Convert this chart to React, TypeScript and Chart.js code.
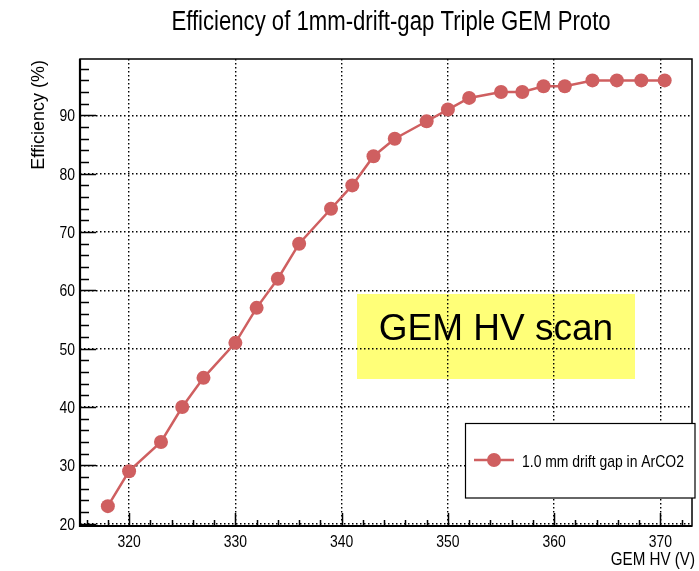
import React, { useEffect, useRef } from 'react';
import { Chart, registerables } from 'chart.js';

Chart.register(...registerables);

// ---- data ----
const hvValues = [318, 320, 323, 325, 327, 330, 332, 334, 336, 339, 341, 343, 345, 348, 350, 352, 355, 357, 359, 361, 363.6, 365.9, 368.2, 370.4];
const efficiencyValues = [23, 29, 34, 40, 45, 51, 57, 62, 68, 74, 78, 83, 86, 89, 91, 93, 94, 94, 95, 95, 96, 96, 96, 96];
const xTickValues = [320, 330, 340, 350, 360, 370];
const yTickValues = [20, 30, 40, 50, 60, 70, 80, 90];

const chartTitle = 'Efficiency of 1mm-drift-gap Triple GEM Proto';
const xAxisTitle = 'GEM HV (V)';
const yAxisTitle = 'Efficiency (%)';
const legendLabel = '1.0 mm drift gap in ArCO2';
const annotationText = 'GEM HV scan';

const X_MIN = 315.38;
const X_MAX = 372.97;
const Y_MIN = 19.6;
const Y_MAX = 99.67;

const SERIES_COLOR = '#cf5f60';
const SANS = "'Liberation Sans', Arial, Helvetica, sans-serif";
const NARROW_SCALE = 0.82;

function narrowText(ctx: any, text: string, x: number, y: number, size: number, align: string) {
  ctx.save();
  ctx.translate(x, y);
  ctx.scale(NARROW_SCALE, 1);
  ctx.font = `${size}px ${SANS}`;
  ctx.textAlign = align;
  ctx.textBaseline = 'alphabetic';
  ctx.fillStyle = '#000000';
  ctx.fillText(text, 0, 0);
  ctx.restore();
}

const rootStylePlugin = {
  id: 'rootStyle',
  beforeDraw(chart: any) {
    const ctx = chart.ctx;
    ctx.save();
    ctx.fillStyle = '#ffffff';
    ctx.fillRect(0, 0, chart.width, chart.height);
    // yellow annotation box (drawn under the grid)
    ctx.fillStyle = '#ffff78';
    ctx.fillRect(357, 294, 278, 85);
    ctx.fillStyle = '#000000';
    ctx.font = `37px ${SANS}`;
    ctx.textAlign = 'center';
    ctx.textBaseline = 'alphabetic';
    ctx.fillText(annotationText, 496, 340);
    ctx.restore();
  },
  beforeDatasetsDraw(chart: any) {
    const ctx = chart.ctx;
    const { left, right, top, bottom } = chart.chartArea;
    const xs = chart.scales.x;
    const ys = chart.scales.y;
    ctx.save();
    ctx.strokeStyle = '#000000';
    ctx.lineWidth = 1.5;
    // y ticks (inside, from left axis)
    for (let v = 20; v <= 98; v += 2) {
      const py = Math.round(ys.getPixelForValue(v)) + 0.5;
      if (py < top || py > bottom) continue;
      const len = v % 10 === 0 ? 16 : 9;
      ctx.beginPath();
      ctx.moveTo(left, py);
      ctx.lineTo(left + len, py);
      ctx.stroke();
    }
    // x ticks (inside, from bottom axis)
    for (let v = 316; v <= 372; v += 2) {
      const px = Math.round(xs.getPixelForValue(v)) + 0.5;
      if (px < left || px > right) continue;
      const len = v % 10 === 0 ? 13 : 6;
      ctx.beginPath();
      ctx.moveTo(px, bottom);
      ctx.lineTo(px, bottom - len);
      ctx.stroke();
    }
    // frame
    ctx.lineWidth = 1.5;
    ctx.strokeRect(left, top, right - left, bottom - top);
    ctx.lineWidth = 2.2;
    ctx.beginPath();
    ctx.moveTo(left, top);
    ctx.lineTo(left, bottom);
    ctx.lineTo(right, bottom);
    ctx.stroke();
    ctx.restore();

    // tick labels, positioned by the chart's scales
    xs.ticks.forEach((t: any) => {
      narrowText(ctx, String(t.value), xs.getPixelForValue(t.value), 547, 17, 'center');
    });
    ys.ticks.forEach((t: any) => {
      narrowText(ctx, String(t.value), 75, ys.getPixelForValue(t.value) + 6, 17, 'right');
    });

    // title
    narrowText(ctx, chartTitle, 391, 29.5, 27, 'center');
    // x axis title
    narrowText(ctx, xAxisTitle, 695, 565, 18.5, 'right');

    // y axis title
    ctx.save();
    ctx.translate(44, 60);
    ctx.rotate(-Math.PI / 2);
    ctx.font = `18px ${SANS}`;
    ctx.textAlign = 'right';
    ctx.textBaseline = 'alphabetic';
    ctx.fillStyle = '#000000';
    ctx.fillText(yAxisTitle, 0, 0);
    ctx.restore();
  },
  afterDraw(chart: any) {
    const ctx = chart.ctx;
    ctx.save();
    // legend box
    ctx.fillStyle = '#ffffff';
    ctx.fillRect(465, 423, 230, 75);
    ctx.strokeStyle = '#000000';
    ctx.lineWidth = 1.2;
    ctx.strokeRect(465.5, 423.5, 229.5, 74.5);
    // legend sample
    ctx.strokeStyle = SERIES_COLOR;
    ctx.lineWidth = 2.5;
    ctx.beginPath();
    ctx.moveTo(474, 460);
    ctx.lineTo(514, 460);
    ctx.stroke();
    ctx.fillStyle = SERIES_COLOR;
    ctx.beginPath();
    ctx.arc(494, 460, 7, 0, Math.PI * 2);
    ctx.fill();
    ctx.restore();
    narrowText(ctx, legendLabel, 522, 467, 17, 'left');
  },
};

export default function App() {
  const canvasRef = useRef<HTMLCanvasElement | null>(null);

  useEffect(() => {
    if (!canvasRef.current) return;
    const points = hvValues.map((x, i) => ({ x, y: efficiencyValues[i] }));
    const chart = new Chart(canvasRef.current, {
      type: 'scatter',
      data: {
        datasets: [
          {
            label: legendLabel,
            data: points,
            showLine: true,
            borderColor: SERIES_COLOR,
            backgroundColor: SERIES_COLOR,
            borderWidth: 2.5,
            pointRadius: 7,
            pointHoverRadius: 7,
            pointBorderWidth: 0,
            tension: 0,
          },
        ],
      },
      options: {
        responsive: false,
        animation: false,
        layout: { padding: { top: 59, right: 4, left: 0, bottom: 0 } },
        plugins: {
          legend: { display: false },
          title: { display: false },
          tooltip: { enabled: false },
        },
        scales: {
          x: {
            type: 'linear',
            min: X_MIN,
            max: X_MAX,
            afterBuildTicks: (scale: any) => {
              scale.ticks = xTickValues.map((v) => ({ value: v }));
            },
            afterFit: (scale: any) => {
              scale.height = 45;
            },
            grid: { color: '#000000', lineWidth: 1.4, drawTicks: false },
            border: { display: false, dash: [1.5, 2.5] },
            ticks: { display: false },
          },
          y: {
            type: 'linear',
            min: Y_MIN,
            max: Y_MAX,
            afterBuildTicks: (scale: any) => {
              scale.ticks = yTickValues.map((v) => ({ value: v }));
            },
            afterFit: (scale: any) => {
              scale.width = 80;
            },
            grid: { color: '#000000', lineWidth: 1.4, drawTicks: false },
            border: { display: false, dash: [1.5, 2.5] },
            ticks: { display: false },
          },
        },
      },
      plugins: [rootStylePlugin],
    });
    return () => chart.destroy();
  }, []);

  return (
    <div style={{ position: 'absolute', left: 0, top: 0, width: 699, height: 571 }}>
      <canvas ref={canvasRef} width={699} height={571} style={{ display: 'block', width: 699, height: 571 }} />
    </div>
  );
}
